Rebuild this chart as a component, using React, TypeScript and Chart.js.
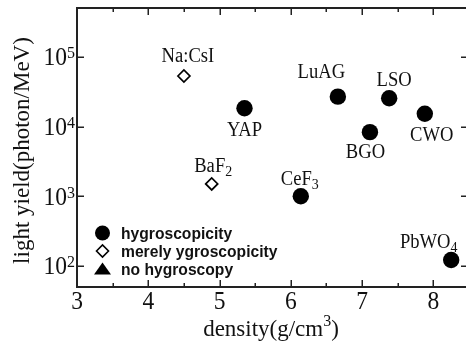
import { useEffect, useRef } from 'react';
import { Chart, registerables } from 'chart.js';
Chart.register(...registerables);

// ---- data ----
const hygroNames = ['YAP', 'LuAG', 'LSO', 'CWO', 'BGO', 'CeF_3', 'PbWO_4'];
const hygroDensity = [5.35, 6.66, 7.38, 7.88, 7.11, 6.14, 8.25];
const hygroYield = [18300, 26800, 25400, 15200, 8300, 1000, 122];

const merelyNames = ['Na:CsI', 'BaF_2'];
const merelyDensity = [4.5, 4.89];
const merelyYield = [53000, 1500];

const noHygroDensity: number[] = [];
const noHygroYield: number[] = [];

const legendLabels = ['hygroscopicity', 'merely ygroscopicity', 'no hygroscopy'];
const xTickValues = [3, 4, 5, 6, 7, 8];
const xMinorValues = [3.5, 4.5, 5.5, 6.5, 7.5];
const yTickExponents = [2, 3, 4, 5];
const xTitle = 'density(g/cm^3)';
const yTitle = 'light yield(photon/MeV)';
const X_MIN = 3, X_MAX = 8.5, Y_MIN = 50, Y_MAX = 500000;

// label placement relative to the point (dx, baseline dy) in px
const labelOffsets: Record<string, [number, number]> = {
  'Na:CsI': [4, -14],
  'BaF_2': [1.5, -12],
  'YAP': [0, 28],
  'LuAG': [-16.5, -18.5],
  'LSO': [5, -12.5],
  'CWO': [7, 27.5],
  'BGO': [-4.5, 26],
  'CeF_3': [-1, -11.7],
  'PbWO_4': [-22.5, -11.7],
};

const SERIF = "'Liberation Serif','Times New Roman',serif";
const SANS = "'Liberation Sans',Arial,sans-serif";

type Seg = { t: string; k: number };
function parseRich(s: string): Seg[] {
  const out: Seg[] = [];
  let buf = '';
  let i = 0;
  while (i < s.length) {
    const c = s[i];
    if ((c === '_' || c === '^') && i + 1 < s.length) {
      if (buf) { out.push({ t: buf, k: 0 }); buf = ''; }
      out.push({ t: s[i + 1], k: c === '_' ? -1 : 1 });
      i += 2;
    } else { buf += c; i++; }
  }
  if (buf) out.push({ t: buf, k: 0 });
  return out;
}

function drawRich(
  ctx: CanvasRenderingContext2D, s: string, x: number, y: number,
  size: number, smallSize: number, subDown: number, supUp: number,
  align: 'left' | 'center' | 'right', hs = 1, family = SERIF, weight = 'normal'
) {
  const segs = parseRich(s);
  const widths = segs.map((sg) => {
    ctx.font = `${weight} ${sg.k ? smallSize : size}px ${family}`;
    return ctx.measureText(sg.t).width;
  });
  const total = widths.reduce((a, b) => a + b, 0) * hs;
  const start = align === 'center' ? x - total / 2 : align === 'right' ? x - total : x;
  ctx.save();
  ctx.translate(start, y);
  ctx.scale(hs, 1);
  ctx.textAlign = 'left';
  let cx = 0;
  segs.forEach((sg, i) => {
    ctx.font = `${weight} ${sg.k ? smallSize : size}px ${family}`;
    const dy = sg.k === -1 ? subDown : sg.k === 1 ? -supUp : 0;
    ctx.fillText(sg.t, cx, dy);
    cx += widths[i];
  });
  ctx.restore();
}

const decorPlugin = {
  id: 'decor',
  afterDraw(chart: any) {
    const ctx: CanvasRenderingContext2D = chart.ctx;
    const { left, right, top, bottom } = chart.chartArea;
    const xs = chart.scales.x;
    const ys = chart.scales.y;
    ctx.save();
    // frame
    ctx.strokeStyle = '#222';
    ctx.lineWidth = 2;
    ctx.strokeRect(left, top, right - left, bottom - top);
    // ticks (inward, mirrored)
    ctx.lineWidth = 1.5;
    ctx.beginPath();
    xTickValues.forEach((v) => {
      const p = Math.round(xs.getPixelForValue(v)) + 0.25;
      ctx.moveTo(p, bottom); ctx.lineTo(p, bottom - 7);
      ctx.moveTo(p, top); ctx.lineTo(p, top + 7);
    });
    xMinorValues.forEach((v) => {
      const p = Math.round(xs.getPixelForValue(v)) + 0.25;
      ctx.moveTo(p, bottom); ctx.lineTo(p, bottom - 4);
      ctx.moveTo(p, top); ctx.lineTo(p, top + 4);
    });
    yTickExponents.forEach((e) => {
      const p = Math.round(ys.getPixelForValue(Math.pow(10, e))) + 0.25;
      ctx.moveTo(left, p); ctx.lineTo(left + 7, p);
      ctx.moveTo(right, p); ctx.lineTo(right - 8, p);
    });
    ctx.stroke();

    ctx.fillStyle = '#111';
    ctx.textBaseline = 'alphabetic';
    // x tick labels
    xTickValues.forEach((v) => {
      const p = xs.getPixelForValue(v);
      drawRich(ctx, String(v), p, bottom + 22, 25, 16, 0, 0, 'center', 0.94);
    });
    // y tick labels
    yTickExponents.forEach((e) => {
      const p = ys.getPixelForValue(Math.pow(10, e));
      drawRich(ctx, '10^' + e, left - 2, p + 8.3, 25, 17, 0, 7, 'right', 0.94);
    });
    // axis titles
    drawRich(ctx, xTitle, 271, bottom + 49, 23, 16, 0, 10, 'center');
    ctx.save();
    ctx.translate(29, (top + bottom) / 2 + 3);
    ctx.rotate(-Math.PI / 2);
    drawRich(ctx, yTitle, 0, 0, 23, 16, 0, 9, 'center');
    ctx.restore();

    // point labels
    const drawLabels = (names: string[], dens: number[], yl: number[]) => {
      names.forEach((n, i) => {
        const px = xs.getPixelForValue(dens[i]);
        const py = ys.getPixelForValue(yl[i]);
        const [dx, dy] = labelOffsets[n] || [0, -12];
        drawRich(ctx, n, px + dx, py + dy, 20, 15, 4, 7, 'center', 0.93);
      });
    };
    drawLabels(hygroNames, hygroDensity, hygroYield);
    drawLabels(merelyNames, merelyDensity, merelyYield);

    // legend
    const lx = 102.5;
    const rows = [233, 251, 269];
    ctx.fillStyle = '#000';
    ctx.beginPath();
    ctx.arc(lx, rows[0], 7.5, 0, Math.PI * 2);
    ctx.fill();
    ctx.strokeStyle = '#000';
    ctx.lineWidth = 1.6;
    ctx.fillStyle = '#fff';
    ctx.beginPath();
    ctx.moveTo(lx - 6, rows[1]); ctx.lineTo(lx, rows[1] - 6);
    ctx.lineTo(lx + 6, rows[1]); ctx.lineTo(lx, rows[1] + 6);
    ctx.closePath();
    ctx.fill(); ctx.stroke();
    ctx.fillStyle = '#000';
    ctx.beginPath();
    ctx.moveTo(lx, rows[2] - 6.5); ctx.lineTo(lx + 8.5, rows[2] + 5.5);
    ctx.lineTo(lx - 8.5, rows[2] + 5.5);
    ctx.closePath();
    ctx.fill();
    ctx.fillStyle = '#111';
    ctx.textBaseline = 'middle';
    legendLabels.forEach((l, i) => drawRich(ctx, l, 121, rows[i] + 1.5, 17, 12, 0, 0, 'left', 0.92, SANS, 'bold'));
    ctx.restore();
  },
};

export default function App() {
  const ref = useRef<HTMLCanvasElement | null>(null);
  useEffect(() => {
    if (!ref.current) return;
    const chart = new Chart(ref.current, {
      type: 'scatter',
      data: {
        datasets: [
          {
            label: legendLabels[0],
            data: hygroDensity.map((x, i) => ({ x, y: hygroYield[i] })),
            pointStyle: 'circle',
            pointRadius: 8.2,
            pointBackgroundColor: '#000',
            pointBorderColor: '#000',
            pointBorderWidth: 0,
          },
          {
            label: legendLabels[1],
            data: merelyDensity.map((x, i) => ({ x, y: merelyYield[i] })),
            pointStyle: 'rectRot',
            pointRadius: 6,
            pointBackgroundColor: '#fff',
            pointBorderColor: '#000',
            pointBorderWidth: 1.7,
          },
          {
            label: legendLabels[2],
            data: noHygroDensity.map((x, i) => ({ x, y: noHygroYield[i] })),
            pointStyle: 'triangle',
            pointRadius: 8,
            pointBackgroundColor: '#000',
          },
        ],
      },
      options: {
        responsive: false,
        animation: false,
        devicePixelRatio: 1,
        layout: { autoPadding: false, padding: { left: 77, top: 8, right: 3, bottom: 60 } },
        plugins: { legend: { display: false }, tooltip: { enabled: false } },
        scales: {
          x: { type: 'linear', min: X_MIN, max: X_MAX, display: false },
          y: { type: 'logarithmic', min: Y_MIN, max: Y_MAX, display: false },
        },
      },
      plugins: [decorPlugin],
    });
    return () => chart.destroy();
  }, []);
  return (
    <div style={{ position: 'fixed', left: 0, top: 0, width: 466, height: 347, overflow: 'hidden', background: '#fff' }}>
      <canvas ref={ref} width={472} height={347} style={{ display: 'block' }} />
    </div>
  );
}
